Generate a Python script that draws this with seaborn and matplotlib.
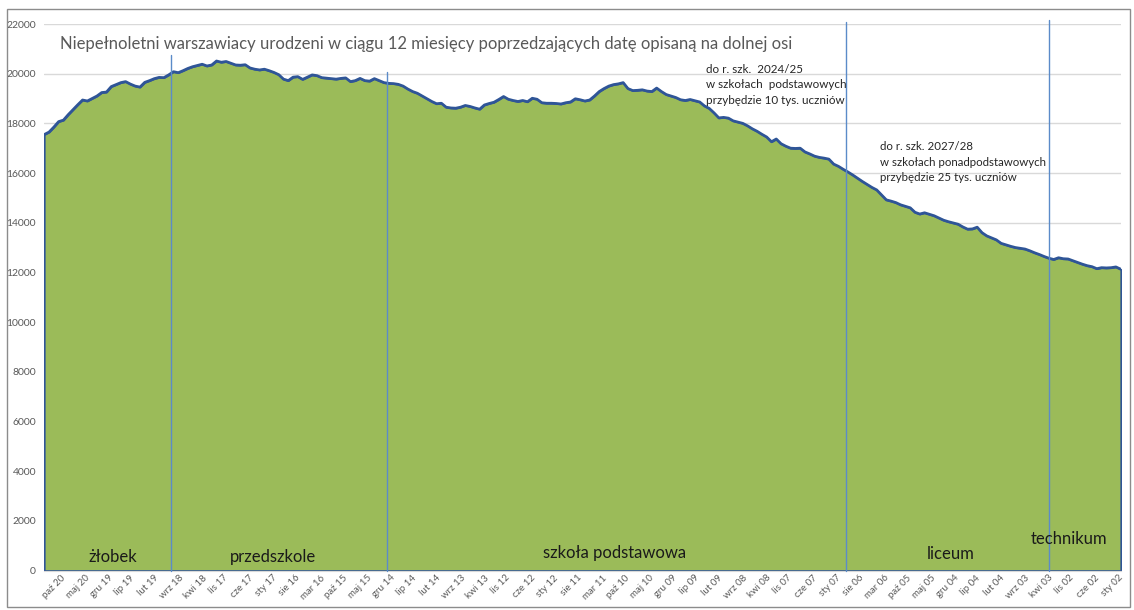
import numpy as np
import pandas as pd
import seaborn as sns
import matplotlib.pyplot as plt
from matplotlib.patches import Rectangle
from matplotlib.transforms import ScaledTranslation

#### Dane: liczba niepełnoletnich warszawiaków (od paź 20 wstecz do sty 02, co miesiąc)

values = [
    17550, 17650, 17850, 18070, 18130, 18350, 18550, 18750, 18940, 18900,
    19000, 19100, 19240, 19260, 19480, 19560, 19640, 19680, 19580, 19500,
    19460, 19650, 19720, 19800, 19850, 19840, 19950, 20080, 20040, 20120,
    20210, 20280, 20330, 20380, 20310, 20350, 20510, 20460, 20490, 20420,
    20350, 20340, 20360, 20230, 20180, 20150, 20180, 20120, 20050, 19960,
    19780, 19720, 19860, 19880, 19770, 19860, 19950, 19920, 19840, 19820,
    19800, 19780, 19810, 19830, 19680, 19720, 19810, 19720, 19700, 19800,
    19720, 19640, 19610, 19600, 19570, 19500, 19380, 19280, 19210, 19100,
    18990, 18880, 18790, 18810, 18650, 18620, 18610, 18650, 18720, 18680,
    18620, 18570, 18740, 18800, 18850, 18960, 19080, 18970, 18920, 18880,
    18920, 18870, 19010, 18970, 18830, 18810, 18810, 18800, 18780, 18830,
    18860, 18990, 18950, 18900, 18940, 19100, 19280, 19400, 19500, 19560,
    19590, 19640, 19400, 19320, 19330, 19350, 19300, 19280, 19420, 19280,
    19160, 19100, 19040, 18950, 18920, 18960, 18910, 18860, 18700, 18600,
    18420, 18220, 18240, 18210, 18100, 18050, 18000, 17900, 17780, 17680,
    17560, 17450, 17260, 17370, 17180, 17080, 17000, 16990, 17000, 16850,
    16770, 16680, 16630, 16600, 16560, 16360, 16270, 16150, 16040, 15920,
    15790, 15660, 15540, 15420, 15320, 15120, 14920, 14870, 14810, 14720,
    14660, 14600, 14420, 14350, 14400, 14340, 14280, 14190, 14100, 14040,
    13990, 13940, 13830, 13740, 13750, 13820, 13600, 13470, 13390, 13310,
    13170, 13110, 13050, 13000, 12970, 12940, 12870, 12790, 12720, 12640,
    12570, 12520, 12590, 12550, 12540, 12470, 12400, 12330, 12270, 12230,
    12150, 12190, 12180, 12190, 12220, 12130,
]

tick_labels = [
    'paź 20', 'maj 20', 'gru 19', 'lip 19', 'lut 19', 'wrz 18', 'kwi 18', 'lis 17',
    'cze 17', 'sty 17', 'sie 16', 'mar 16', 'paź 15', 'maj 15', 'gru 14', 'lip 14',
    'lut 14', 'wrz 13', 'kwi 13', 'lis 12', 'cze 12', 'sty 12', 'sie 11', 'mar 11',
    'paź 10', 'maj 10', 'gru 09', 'lip 09', 'lut 09', 'wrz 08', 'kwi 08', 'lis 07',
    'cze 07', 'sty 07', 'sie 06', 'mar 06', 'paź 05', 'maj 05', 'gru 04', 'lip 04',
    'lut 04', 'wrz 03', 'kwi 03', 'lis 02', 'cze 02', 'sty 02',
]

# granice etapów edukacji (pozycja na osi, wysokość linii)
phase_x = [26.5, 71.6, 167.6, 210.0]
phase_top = [20750, 20070, 22080, 22160]

phase_names = ['żłobek', 'przedszkole', 'szkoła podstawowa', 'liceum', 'technikum']

df = pd.DataFrame({'idx': np.arange(len(values)), 'n': values})

#############################################################################
##### Wykres

sns.set_style("white")
plt.rcParams['font.family'] = ['Lato', 'DejaVu Sans']

fig = plt.figure(figsize=(11.34, 6.10), dpi=100, facecolor='white')
ax = fig.add_axes([44.3 / 1134, 1 - 570.5 / 610, (1120.7 - 44.3) / 1134, (570.5 - 24) / 610])

ax.fill_between(df.idx, df.n, color='#9BBB59', edgecolor='#2F5597', linewidth=1.2, zorder=2)
sns.lineplot(data=df, x='idx', y='n', color='#2F5597', linewidth=2.0, ax=ax, zorder=3)

for x, top in zip(phase_x, phase_top):
    ax.plot([x, x], [0, top], color='#5B8BC9', linewidth=1.0, zorder=4, clip_on=False)

ax.set_xlim(0, len(values) - 1)
ax.set_ylim(0, 22000)
ax.set_yticks(np.arange(0, 22001, 2000))
ax.yaxis.grid(True, color='#D9D9D9', linewidth=1.0, zorder=0)
ax.set_axisbelow(True)
ax.set_xticks(np.arange(0, len(values), 5))
ax.set_xticklabels(tick_labels, rotation=45, ha='center', va='top')
ax.tick_params(axis='x', length=0, pad=2, labelsize=7, labelcolor='#595959')
ax.tick_params(axis='y', length=0, pad=6, labelsize=7.5, labelcolor='#595959')
# Excel rozstawia etykiety nieco gęściej niż punkty -> lekkie przesunięcie
labs = ax.get_xticklabels()
for i, lab in enumerate(labs):
    dx = 10 - 19 * i / (len(labs) - 1)
    lab.set_transform(lab.get_transform() + ScaledTranslation(dx / 100, 0, fig.dpi_scale_trans))
ax.set_xlabel('')
ax.set_ylabel('')
for s in ['top', 'right', 'left']:
    ax.spines[s].set_visible(False)
ax.spines['bottom'].set_color('#D9D9D9')

# ramka wykresu
fig.patches.append(Rectangle((7 / 1134, 3 / 610), 1123 / 1134, 598 / 610,
                             transform=fig.transFigure, fill=False,
                             edgecolor='#8C8C8C', linewidth=1.0))

fig.text(60 / 1134, 1 - 44 / 610,
         'Niepełnoletni warszawiacy urodzeni w ciągu 12 miesięcy poprzedzających datę opisaną na dolnej osi',
         fontsize=12, color='#595959', va='center', ha='left')

fig.text(706 / 1134, 1 - 85 / 610,
         'do r. szk.  2024/25\nw szkołach  podstawowych\nprzybędzie 10 tys. uczniów',
         fontsize=8.4, color='#262626', va='center', ha='left', linespacing=1.45)
fig.text(880 / 1134, 1 - 162 / 610,
         'do r. szk. 2027/28\nw szkołach ponadpodstawowych\nprzybędzie 25 tys. uczniów',
         fontsize=8.3, color='#262626', va='center', ha='left', linespacing=1.45)

name_pos = [(113, 557), (273, 557), (615, 553), (951, 554), (1069, 539)]
for name, (px, py) in zip(phase_names, name_pos):
    fig.text(px / 1134, 1 - py / 610, name, fontsize=12, color='#1A1A1A', ha='center', va='center')

plt.savefig('out.png', dpi=100, facecolor='white')
